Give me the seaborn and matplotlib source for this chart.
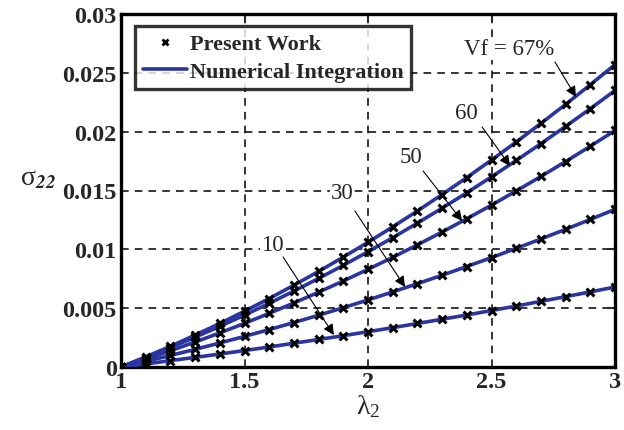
import numpy as np
import pandas as pd
import seaborn as sns
import matplotlib.pyplot as plt
from matplotlib.lines import Line2D

sns.set_style("white")
plt.rcParams['font.family'] = ['Liberation Serif', 'DejaVu Serif']
plt.rcParams['mathtext.fontset'] = 'stix'

lam = [1.0, 1.1, 1.2, 1.3, 1.4, 1.5, 1.6, 1.7, 1.8, 1.9, 2.0,
       2.1, 2.2, 2.3, 2.4, 2.5, 2.6, 2.7, 2.8, 2.9, 3.0]
vf67 = [0, 0.00086, 0.00176, 0.00271, 0.00370, 0.00474, 0.00582, 0.00695, 0.00812, 0.00934, 0.0106,
        0.01191, 0.01326, 0.01466, 0.01610, 0.01759, 0.01912, 0.02070, 0.02232, 0.02399, 0.0257]
vf60 = [0, 0.00080, 0.00165, 0.00253, 0.00345, 0.00441, 0.00541, 0.00645, 0.00753, 0.00864, 0.0098,
        0.01099, 0.01223, 0.01350, 0.01481, 0.01616, 0.01755, 0.01898, 0.02045, 0.02195, 0.0235]
vf50 = [0, 0.00067, 0.00138, 0.00212, 0.00290, 0.00371, 0.00456, 0.00544, 0.00636, 0.00731, 0.0083,
        0.00932, 0.01038, 0.01147, 0.01260, 0.01376, 0.01496, 0.01619, 0.01746, 0.01876, 0.0201]
vf30 = [0, 0.00048, 0.00098, 0.00150, 0.00204, 0.00260, 0.00318, 0.00378, 0.00440, 0.00504, 0.0057,
        0.00638, 0.00708, 0.00780, 0.00854, 0.00930, 0.01008, 0.01088, 0.01170, 0.01254, 0.0134]
vf10 = [0, 0.00026, 0.00054, 0.00082, 0.00110, 0.00140, 0.00170, 0.00202, 0.00234, 0.00266, 0.0030,
        0.00334, 0.00370, 0.00406, 0.00442, 0.00480, 0.00518, 0.00558, 0.00598, 0.00638, 0.0068]

series = {"67": vf67, "60": vf60, "50": vf50, "30": vf30, "10": vf10}
df = pd.concat([pd.DataFrame({"lam": lam, "s22": v, "vf": k}) for k, v in series.items()])

blue = "#2a35a0"
fig = plt.figure(figsize=(6.24, 4.31), dpi=100)
ax = fig.add_axes([121/624, 1-368/431, (615-121)/624, (368-15)/431])

sns.lineplot(data=df, x="lam", y="s22", units="vf", estimator=None, color=blue,
             lw=2.6, ax=ax, zorder=3)
sns.scatterplot(data=df, x="lam", y="s22", marker="x", color="black", s=32,
                linewidth=2.2, ax=ax, zorder=4)

ax.set_xlim(1, 3)
ax.set_ylim(0, 0.03)
ax.set_xticks([1, 1.5, 2, 2.5, 3])
ax.set_xticklabels(["1", "1.5", "2", "2.5", "3"])
ax.set_yticks([0, 0.005, 0.01, 0.015, 0.02, 0.025, 0.03])
ax.set_yticklabels(["0", "0.005", "0.01", "0.015", "0.02", "0.025", "0.03"])
ax.grid(True, color="black", ls=(0, (5, 4)), lw=1.1)
for s in ax.spines.values():
    s.set_linewidth(2.4)
    s.set_color("black")
ax.tick_params(direction="in", length=6, width=1.5, labelsize=17.5, pad=3,
               top=True, right=True)
for t in ax.get_xticklabels() + ax.get_yticklabels():
    t.set_fontweight("bold")

ax.set_xlabel(r"$\mathregular{\lambda_2}$", fontsize=20, labelpad=0)
ax.set_ylabel(r"$\mathregular{\sigma}_{\mathbfit{22}}$", fontsize=20, rotation=0, labelpad=18)

handles = [Line2D([], [], ls="none", marker="x", color="black", mew=2, ms=5),
           Line2D([], [], color=blue, lw=2.6)]
leg = ax.legend(handles, ["Present Work", "Numerical Integration"], loc="upper left",
                bbox_to_anchor=(0.015, 0.985), prop={"weight": "bold", "size": 16},
                frameon=True, fancybox=False, handlelength=2.0, handletextpad=0.1,
                borderpad=0.35, labelspacing=0.3, borderaxespad=0.3)
leg.get_frame().set_edgecolor("black")
leg.get_frame().set_linewidth(2.4)
leg.set_zorder(5)

notes = [("Vf = 67%", (2.571, 0.02703), (2.757, 0.02592), (2.842, 0.02295)),
         ("60", (2.397, 0.02167), (2.462, 0.0204), (2.575, 0.01708)),
         ("50", (2.174, 0.01793), (2.223, 0.01666), (2.381, 0.01241)),
         ("30", (1.895, 0.01479), (1.947, 0.01326), (2.150, 0.0068)),
         ("10", (1.611, 0.01045), (1.656, 0.00935), (1.862, 0.00272))]
for txt, tpos, a0, a1 in notes:
    ax.text(tpos[0], tpos[1], txt, fontsize=16.5, ha="center", va="center", zorder=6,
            bbox=dict(facecolor="white", edgecolor="none", pad=0.5))
    ax.annotate("", xy=a1, xytext=a0, zorder=6,
                arrowprops=dict(arrowstyle="-|>", color="black", lw=0.8,
                                mutation_scale=16, shrinkA=0, shrinkB=0))

fig.savefig("out.png", dpi=100)
